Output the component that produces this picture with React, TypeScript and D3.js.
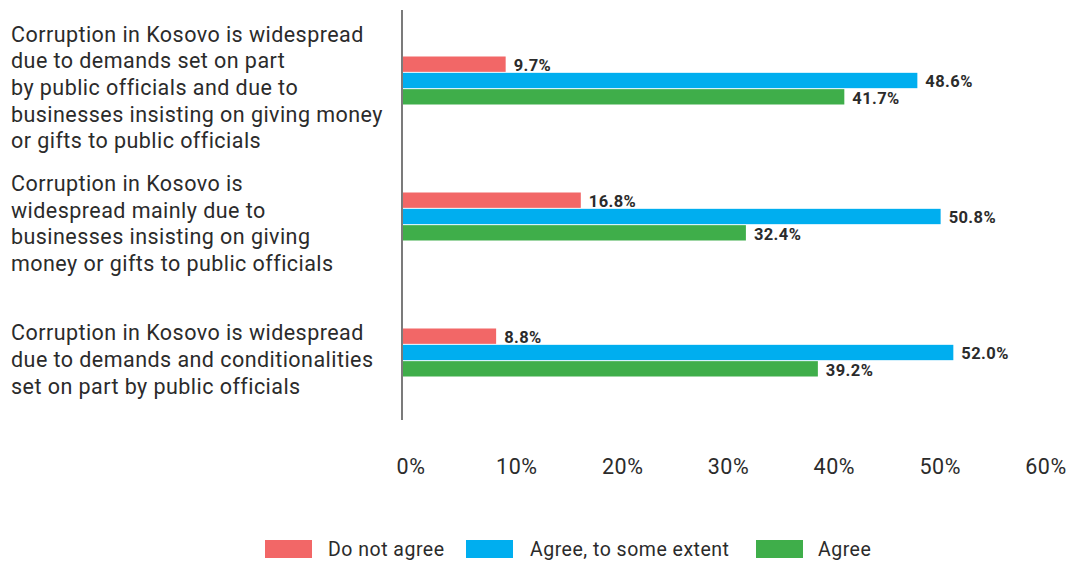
import React from "react";
import * as d3 from "d3";

const categories: string[][] = [
  [
    "Corruption in Kosovo is widespread",
    "due to demands set on part",
    "by public officials and due to",
    "businesses insisting on giving money",
    "or gifts to public officials",
  ],
  [
    "Corruption in Kosovo is",
    "widespread mainly due to",
    "businesses insisting on giving",
    "money or gifts to public officials",
  ],
  [
    "Corruption in Kosovo is widespread",
    "due to demands and conditionalities",
    "set on part by public officials",
  ],
];
const seriesNames = ["Do not agree", "Agree, to some extent", "Agree"];
const seriesColors = ["#F26767", "#00AEEF", "#3FAE4A"];
const doNotAgree = [9.7, 16.8, 8.8];
const agreeSomeExtent = [48.6, 50.8, 52.0];
const agree = [41.7, 32.4, 39.2];
const tickValues = [0, 10, 20, 30, 40, 50, 60];

const W = 1081;
const H = 561;
const TEXT = "#2b2b2b";
const FONT = "Roboto, 'Noto Sans', sans-serif";

export default function App() {
  const series = [doNotAgree, agreeSomeExtent, agree];
  const catIdx = categories.map((_, i) => String(i));
  const x = d3.scaleLinear().domain([0, 60]).range([403, 1038]);
  const y = d3.scaleBand<string>().domain(catIdx).range([12.5, 420.5]);
  const inner = d3
    .scaleBand<string>()
    .domain(seriesNames)
    .range([0, 48])
    .paddingInner(0.06);
  const lineH = 26.7;

  const swW = 47;
  const swH = 18;
  const legendY = 549;
  const legendItems = [
    { x: 265, tx: 328 },
    { x: 466, tx: 530 },
    { x: 756, tx: 818 },
  ];

  return (
    <svg
      width={W}
      height={H}
      style={{ position: "absolute", left: 0, top: 0, background: "#fff" }}
      fontFamily={FONT}
    >
      {categories.map((lines, i) => {
        const c = (y(String(i)) as number) + y.bandwidth() / 2 + 7;
        const top = c - ((lines.length - 1) * lineH) / 2;
        return (
          <text key={i} fill={TEXT} fontSize={21.5} letterSpacing={0.45}>
            {lines.map((l, j) => (
              <tspan key={j} x={11} y={top + j * lineH} dy="0.35em">
                {l}
              </tspan>
            ))}
          </text>
        );
      })}

      {catIdx.map((c, i) => {
        const g0 = (y(c) as number) + y.bandwidth() / 2 - 24;
        return (
          <g key={c}>
            {seriesNames.map((s, k) => {
              const v = series[k][i];
              const by = g0 + (inner(s) as number);
              return (
                <g key={s}>
                  <rect
                    x={x(0)}
                    y={by}
                    width={x(v) - x(0)}
                    height={inner.bandwidth()}
                    fill={seriesColors[k]}
                  />
                  <text
                    x={x(v) + 8}
                    y={by + inner.bandwidth() / 2 + 1}
                    dy="0.35em"
                    fontSize={16.5}
                    fontWeight="bold"
                    letterSpacing={0.4}
                    fill={TEXT}
                  >
                    {v.toFixed(1)}%
                  </text>
                </g>
              );
            })}
          </g>
        );
      })}

      <line x1={402} x2={402} y1={10} y2={420} stroke="#222" strokeWidth={1.2} />

      {tickValues.map((t) => (
        <text
          key={t}
          x={x(t) + 8}
          y={466}
          dy="0.35em"
          textAnchor="middle"
          fontSize={21.5}
          letterSpacing={0.5}
          fill={TEXT}
        >
          {t}%
        </text>
      ))}

      {seriesNames.map((s, k) => (
        <g key={s}>
          <rect
            x={legendItems[k].x}
            y={legendY - swH / 2}
            width={swW}
            height={swH}
            fill={seriesColors[k]}
          />
          <text
            x={legendItems[k].tx}
            y={legendY}
            dy="0.35em"
            fontSize={19.5}
            letterSpacing={0.5}
            fill={TEXT}
          >
            {s}
          </text>
        </g>
      ))}
    </svg>
  );
}
